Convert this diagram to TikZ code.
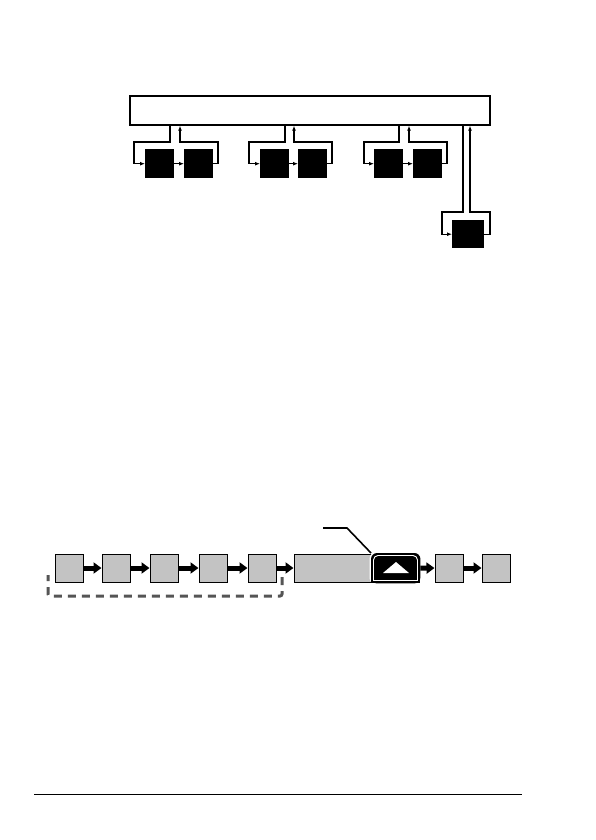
\documentclass[tikz,border=0pt]{standalone}
\usepackage{xcolor}
\usepackage{tikz}
\usetikzlibrary{arrows.meta}
\definecolor{cellgray}{HTML}{C3C3C3}
\definecolor{dashgray}{HTML}{555555}
\tikzset{
  unit/.style={fill=black, inner sep=0pt, minimum width=29pt, minimum height=29pt, anchor=north west},
  cell/.style={draw=black, fill=cellgray, line width=1pt, inner sep=0pt, minimum width=28pt, minimum height=28pt, anchor=north west},
  link/.style={line width=1.3pt},
  feed/.style={link, -{Latex[length=5pt,width=4pt]}},
  flow/.style={line width=5pt, -{Triangle[length=8pt,width=11pt]}}
}
\begin{document}
\begin{tikzpicture}[x=1pt,y=-1pt]
\useasboundingbox (0,0) rectangle (596,840);
% top: bus with three unit pairs and one extra unit
\node[draw, line width=1.7pt, inner sep=0pt, minimum width=360pt, minimum height=29pt, anchor=north west] (bus) at (129,95) {};
\node[unit] (a1) at (145,149) {};
\node[unit] (a2) at (184,149) {};
\node[unit] (b1) at (260,149) {};
\node[unit] (b2) at (298,149) {};
\node[unit] (c1) at (374,149) {};
\node[unit] (c2) at (413,149) {};
\node[unit, minimum width=32pt, minimum height=28pt] (d) at (452,220) {};
\draw[feed] (bus.south -| 170,0) |- (134,142) |- (a1.west);
\draw[feed] (a1.east) -- (a2.west);
\draw[feed] (a2.east) -| (218,142) -| (bus.south -| 180,0);
\draw[feed] (bus.south -| 285,0) |- (249,142) |- (b1.west);
\draw[feed] (b1.east) -- (b2.west);
\draw[feed] (b2.east) -| (332,142) -| (bus.south -| 294,0);
\draw[feed] (bus.south -| 399,0) |- (364,142) |- (c1.west);
\draw[feed] (c1.east) -- (c2.west);
\draw[feed] (c2.east) -| (447,142) -| (bus.south -| 409,0);
\draw[feed] (bus.south -| 463,0) |- (442,212) |- (d.west);
\draw[feed] (d.east) -| (490,212) -| (bus.south -| 470,0);
% bottom: chain of cells
\node[cell] (q1) at (54.5,553.5) {};
\node[cell] (q2) at (101.5,553.5) {};
\node[cell] (q3) at (149.5,553.5) {};
\node[cell] (q4) at (198.5,553.5) {};
\node[cell] (q5) at (247.5,553.5) {};
\node[cell, minimum width=78pt] (long) at (293.5,553.5) {};
\node[inner sep=0pt, minimum width=49pt, minimum height=30pt, anchor=north west] (key) at (371,553) {};
\draw[white, line width=3pt, rounded corners=6pt] (key.north west) rectangle (key.south east);
\fill[black, rounded corners=6pt] (key.north west) rectangle (key.south east);
\fill[black] (key.west) rectangle (key.south east);
\draw[white, line width=0.9pt] (373.5,580.5) [rounded corners=4.5pt] -- (373.5,555.5) -- (417.5,555.5) [sharp corners] -- (417.5,580.5) -- cycle;
\fill[white] (383,573) -- (409,573) -- (396,562) -- cycle;
\node[cell] (q6) at (434.5,553.5) {};
\node[cell] (q7) at (481.5,553.5) {};
\draw[flow] (q1.east) -- (q2.west);
\draw[flow] (q2.east) -- (q3.west);
\draw[flow] (q3.east) -- (q4.west);
\draw[flow] (q4.east) -- (q5.west);
\draw[flow] (q5.east) -- (long.west);
\draw[flow] (key.east) -- (q6.west);
\draw[flow] (q6.east) -- (q7.west);
\coordinate (tag) at (323,528);
\draw[line width=1.6pt] (tag) -- ++(24,0) -- (key.north west);
\draw[dashgray, line width=3pt, dash pattern=on 8pt off 6pt, dash phase=2pt, rounded corners=2pt] (48,575) -- (48,596) -- (282,596) -- (282,575);
\draw[line width=0.8pt] (34,794) -- (522,794);
\end{tikzpicture}
\end{document}
